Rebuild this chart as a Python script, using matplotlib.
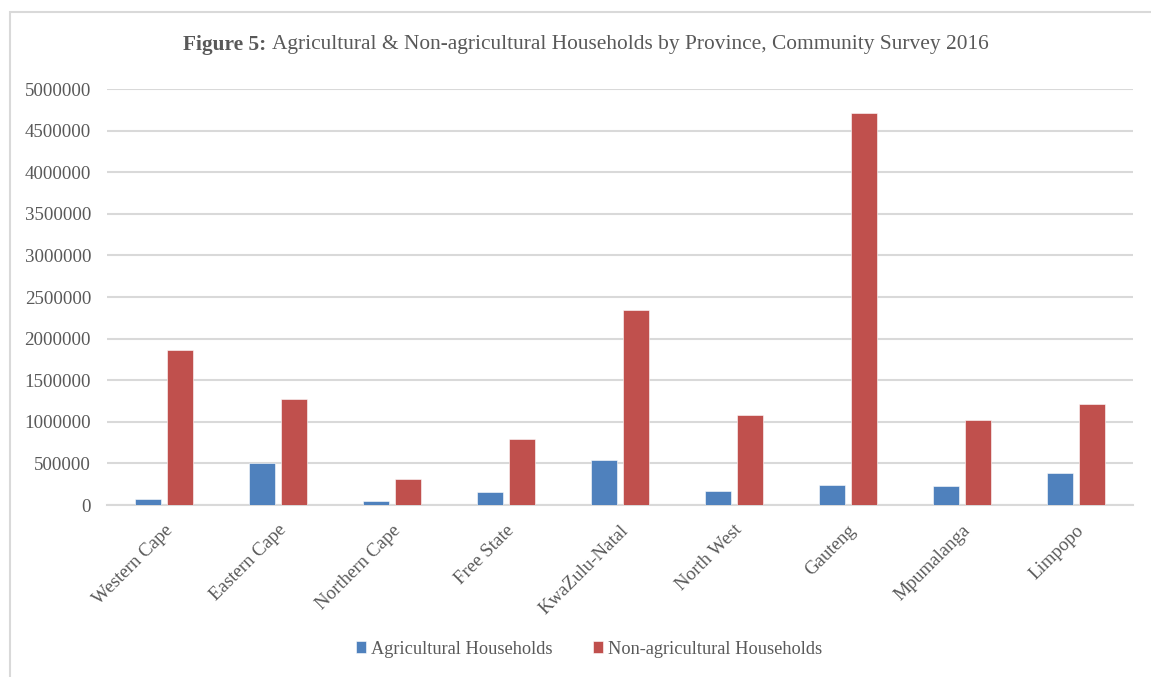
import matplotlib
matplotlib.use('Agg')
import matplotlib.pyplot as plt
import matplotlib.patches as patches
import numpy as np

provinces = ['Western Cape', 'Eastern Cape', 'Northern Cape', 'Free State',
             'KwaZulu-Natal', 'North West', 'Gauteng', 'Mpumalanga', 'Limpopo']
agri = [72000, 500000, 52000, 160000, 538000, 166000, 240000, 224000, 388000]
nonagri = [1863000, 1280000, 312000, 792000, 2340000, 1085000, 4710000, 1020000, 1218000]
series_names = ['Agricultural Households', 'Non-agricultural Households']

plt.rcParams['font.family'] = ['Liberation Serif', 'DejaVu Serif']
txt = '#595959'
grid = '#d9d9d9'

fig = plt.figure(figsize=(11.51, 6.77), dpi=100)
ax = fig.add_axes([0.093, 0.254, 0.891, 0.6145])

x = np.arange(len(provinces))
w = 0.228
off = 0.14
ax.bar(x - off, agri, w, color='#4F81BD', edgecolor='white', linewidth=0.4,
       label=series_names[0], zorder=3)
ax.bar(x + off, nonagri, w, color='#C0504D', edgecolor='white', linewidth=0.4,
       label=series_names[1], zorder=3)

ax.set_xlim(-0.5, len(provinces) - 0.5)
ax.set_ylim(0, 5000000)
ax.set_yticks(np.arange(0, 5000001, 500000))
ax.set_yticklabels([str(v) for v in range(0, 5000001, 500000)])
ax.yaxis.grid(True, color=grid, linewidth=1.5, zorder=0)
ax.set_axisbelow(True)
for s in ['top', 'right', 'left']:
  ax.spines[s].set_visible(False)
ax.spines['bottom'].set_color(grid)
ax.spines['bottom'].set_linewidth(1.5)
ax.tick_params(axis='both', length=0, labelsize=13.6, colors=txt)
ax.tick_params(axis='y', pad=11.5)
ax.set_xticks(x)
ax.set_xticklabels(provinces, rotation=45, ha='right', rotation_mode='anchor')
ax.tick_params(axis='x', pad=12)

# frame round the chart
fig.patches.append(patches.Rectangle((10/1151., -0.05), 1.2, 1 - 12/677. + 0.05,
                                     transform=fig.transFigure, fill=False,
                                     edgecolor=grid, linewidth=1.5))

# title with bold prefix
fig.canvas.draw()
r = fig.canvas.get_renderer()
t1 = fig.text(0, 1 - 45/677., 'Figure 5: ', fontsize=15.4, fontweight='bold',
              color=txt, va='center')
t2 = fig.text(0, 1 - 45/677., 'Agricultural & Non-agricultural Households by Province, Community Survey 2016',
              fontsize=15.4, color=txt, va='center')
w1 = t1.get_window_extent(r).width
w2 = t2.get_window_extent(r).width
x0 = 586 - (w1 + w2) / 2.
t1.set_x(x0 / 1151.)
t2.set_x((x0 + w1) / 1151.)

fig.legend(loc='center', bbox_to_anchor=(589/1151., 1 - 649/677.), ncol=2,
           frameon=False, fontsize=13.2, labelcolor=txt, handlelength=0.55,
           handleheight=0.55, handletextpad=0.25, columnspacing=2.2)

fig.savefig('out.png', dpi=100)
